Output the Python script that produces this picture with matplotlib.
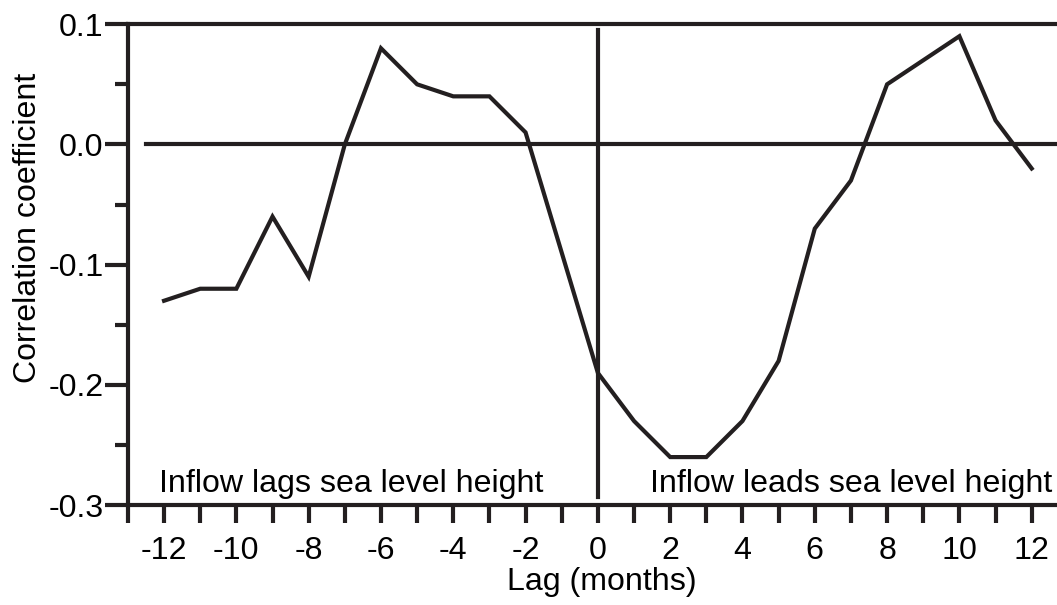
import matplotlib
matplotlib.use("Agg")
import matplotlib.pyplot as plt
import numpy as np

plt.rcParams['font.family'] = ['Liberation Sans', 'DejaVu Sans']
plt.rcParams['axes.unicode_minus'] = False

# lag in months and correlation
lag = list(range(-12, 13))
corr = [-0.13, -0.12, -0.12, -0.06, -0.11, 0.00, 0.08, 0.05, 0.04, 0.04, 0.01,
        -0.09, -0.19, -0.23, -0.26, -0.26, -0.23, -0.18, -0.07, -0.03, 0.05,
        0.07, 0.09, 0.02, -0.02]

yticks = [-0.3, -0.2, -0.1, 0.0, 0.1]
ytick_labels = ['-0.3', '-0.2', '-0.1', '0.0', '0.1']
xticks = list(range(-12, 13, 2))

lw = 3.0
fs = 23.1
ink = '#231f20'

fig = plt.figure(figsize=(10.57, 6.05), dpi=100)
ax = fig.add_axes([0.121, 0.165, 0.879, 0.795])

ax.plot(lag, corr, color=ink, lw=lw, solid_joinstyle='miter', clip_on=False)

# reference lines
ax.axhline(0.1, color=ink, lw=lw, clip_on=False)
ax.plot([-12.5, 12.7], [0, 0], color=ink, lw=lw, clip_on=False)
ax.plot([0, 0], [-0.293, 0.095], color=ink, lw=lw, clip_on=False)

ax.set_xlim(-13, 12.7)
ax.set_ylim(-0.3, 0.1)

for s in ['top', 'right']:
    ax.spines[s].set_visible(False)
for s in ['left', 'bottom']:
    ax.spines[s].set_linewidth(lw)
    ax.spines[s].set_color(ink)

ax.set_yticks(yticks)
ax.set_yticklabels(ytick_labels)
ax.set_yticks([-0.25, -0.15, -0.05, 0.05], minor=True)
ax.set_xticks(xticks)
ax.set_xticks(range(-13, 13), minor=True)

ax.tick_params(axis='y', which='major', length=16.5, width=lw, labelsize=fs, pad=1, color=ink)
ax.tick_params(axis='y', which='minor', length=9.5, width=lw, color=ink)
ax.tick_params(axis='x', which='both', length=13, width=lw, labelsize=fs, pad=9, color=ink)

ax.set_xlabel('Lag (months)', fontsize=fs)
ax.set_ylabel('Correlation coefficient', fontsize=fs)
ax.xaxis.set_label_coords(0.510, -0.129)
ax.yaxis.set_label_coords(-0.0915, 0.576)

ax.text(-12.15, -0.289, 'Inflow lags sea level height', fontsize=fs, va='baseline', ha='left')
ax.text(1.43, -0.289, 'Inflow leads sea level height', fontsize=fs, va='baseline', ha='left')

fig.savefig('out.png', dpi=100)
